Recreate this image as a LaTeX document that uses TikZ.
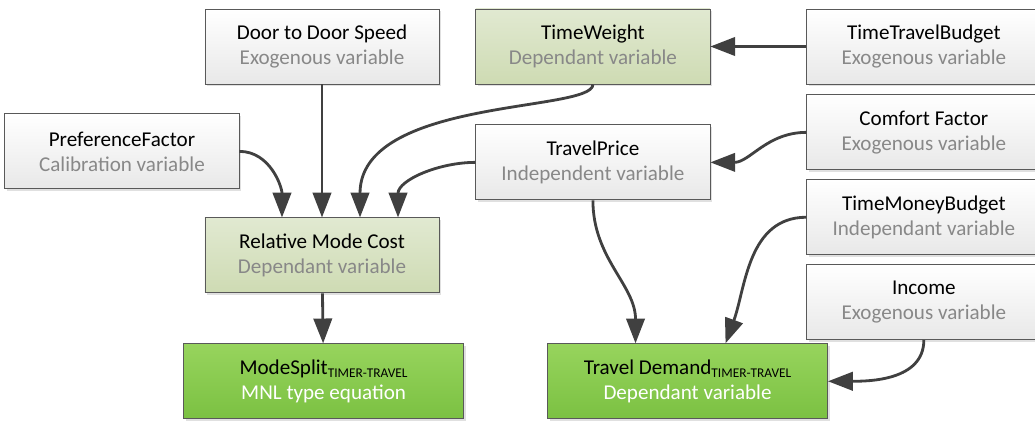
\documentclass[tikz,border=0pt]{standalone}
\usepackage{fontspec}
\setmainfont{Carlito}
\usepackage{tikz}
\usetikzlibrary{arrows.meta, positioning, shadows}
\definecolor{boxline}{HTML}{595959}
\definecolor{arrowgrey}{HTML}{404040}
\definecolor{subgrey}{HTML}{888888}
\definecolor{olivetop}{HTML}{E1E9D1}
\definecolor{olivebot}{HTML}{CEDBB3}
\definecolor{greentop}{HTML}{97D45D}
\definecolor{greenbot}{HTML}{7BC142}
\tikzset{
    exovar/.style={rectangle, minimum width=5.85cm, minimum height=1.875cm, inner sep=0pt, align=center, draw=boxline, line width=0.6pt, top color=white, bottom color=black!9, font=\fontsize{15}{17.8}\selectfont, execute at begin node={\rule{0pt}{15pt}}, drop shadow={shadow xshift=0.06cm, shadow yshift=-0.06cm, fill=black, opacity=0.12}},
    depvar/.style={exovar, top color=olivetop, bottom color=olivebot},
    result/.style={exovar, minimum width=7cm, top color=greentop, bottom color=greenbot},
    arrow/.style={line width=2pt, draw=arrowgrey, -{Triangle[length=0.62cm, width=0.46cm]}}
}

\begin{document}
\begin{tikzpicture}[x=0.025cm, y=-0.025cm]
    \useasboundingbox (0,0) rectangle (1035,421);
    \node (door) [exovar] at (322,46.5) {Door to Door Speed\\\textcolor{subgrey}{Exogenous variable}};
    \node (weight) [depvar, right=0.9cm of door] {TimeWeight\\\textcolor{subgrey}{Dependant variable}};
    \node (ttbudget) [exovar, right=2.4cm of weight] {TimeTravelBudget\\\textcolor{subgrey}{Exogenous variable}};
    \node (comfort) [exovar, below=0.25cm of ttbudget] {Comfort Factor\\\textcolor{subgrey}{Exogenous variable}};
    \node (tmbudget) [exovar, below=0.225cm of comfort] {TimeMoneyBudget\\\textcolor{subgrey}{Independant variable}};
    \node (income) [exovar, below=0.225cm of tmbudget] {Income\\\textcolor{subgrey}{Exogenous variable}};
    \node (price) [exovar, below=1cm of weight] {TravelPrice\\\textcolor{subgrey}{Independent variable}};
    \node (pref) [exovar, below=0.725cm of door, xshift=-5cm] {PreferenceFactor\\\textcolor{subgrey}{Calibration variable}};
    \node (relcost) [depvar, below=3.325cm of door] {Relative Mode Cost\\\textcolor{subgrey}{Dependant variable}};

    \node (modesplit) [result, below=1.25cm of relcost, xshift=0.04cm] {ModeSplit\raisebox{-0.35ex}{\fontsize{9.5}{10}\selectfont TIMER-TRAVEL}\\\textcolor{white}{MNL type equation}};
    \node (demand) [result, right=2.075cm of modesplit] {Travel Demand\raisebox{-0.35ex}{\fontsize{9.5}{10}\selectfont TIMER-TRAVEL}\\\textcolor{white}{Dependant variable}};

    % into the mode cost
    \draw [arrow] (door) -- (relcost);
    \draw [arrow] (pref.east) to[out=0, in=90] ([xshift=-1cm]relcost.north);
    \draw [arrow] (weight.south) .. controls +(0,28) and +(0,-120) .. ([xshift=0.95cm]relcost.north);
    \draw [arrow] (price.west) to[out=180, in=90] ([xshift=1.9cm]relcost.north);
    \draw [arrow] (relcost) -- (modesplit);

    % right hand side
    \draw [arrow] (ttbudget) -- (weight);
    \draw [arrow] (comfort.west) to[out=180, in=0] (price.east);
    \draw [arrow] (price.south) to[out=-90, in=90] ([xshift=-1.3cm]demand.north);
    \draw [arrow] (tmbudget.west) to[out=180, in=70] ([xshift=0.95cm]demand.north);
    \draw [arrow] (income.south) to[out=-90, in=0] (demand.east);
\end{tikzpicture}
\end{document}
